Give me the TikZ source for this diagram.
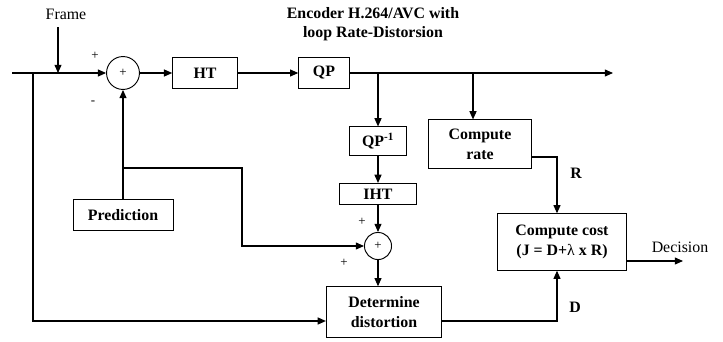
\documentclass[tikz,border=0pt]{standalone}
\usepackage{fontspec}
\setmainfont{Liberation Serif}
\usetikzlibrary{arrows.meta, positioning, calc}

\begin{document}
\begin{tikzpicture}[x=0.85pt, y=-0.85pt,
  font=\fontsize{13.5}{17}\selectfont,
  blk/.style={draw, line width=0.8pt, inner sep=0pt,
    align=center, font=\fontsize{13.5}{17}\selectfont\bfseries},
  sumnode/.style={draw, circle, line width=0.8pt, inner sep=0pt,
    font=\fontsize{11}{12}\selectfont},
  sgn/.style={font=\fontsize{11}{12}\selectfont},
  wire/.style={line width=0.9pt},
  arr/.style={-{Triangle[length=7pt, width=6pt]}, line width=0.9pt}]

  \useasboundingbox (0,0) rectangle (723,341);

  % title
  \node[align=center, font=\fontsize{13.5}{16}\selectfont\bfseries] (title) at (373,24)
    {Encoder H.264/AVC with\\loop Rate-Distorsion};

  % forward path
  \coordinate (in) at (12,73);
  \coordinate (split) at (33,73);
  \coordinate (fin) at (58,73);
  \node (frame) at (66,14) {Frame};
  \node[sumnode, minimum size=28pt] (sum1) at (123,73) {+};
  \node[blk, minimum width=55pt, minimum height=27pt] (ht) at (205,73) {HT};
  \node[blk, minimum width=43pt, minimum height=27pt] (qp) at (324,73) {QP};
  \coordinate (tap1) at (378,73);
  \coordinate (tap2) at (473,73);
  \coordinate (out) at (613,73);

  % inverse path
  \node[blk, minimum width=48pt, minimum height=24pt] (qpinv) at (378,141) {QP\textsuperscript{-1}};
  \node[blk, minimum width=65pt, minimum height=18pt] (iht) at (378,194) {IHT};
  \node[sumnode, minimum size=23pt] (sum2) at (378,246) {+};
  \node[blk, minimum width=98pt, minimum height=43pt] (dist) at (384,312) {Determine\\distortion};

  % prediction
  \node[blk, minimum width=85pt, minimum height=27pt] (pred) at (123,215) {Prediction};
  \coordinate (ptap) at (123,168);
  \coordinate (pbend) at (242,168);

  % rate / cost
  \node[blk, minimum width=88pt, minimum height=41pt] (rate) at (480,144) {Compute\\rate};
  \coordinate (rtap) at (531,157);
  \node[blk, minimum width=109pt, minimum height=48pt] (cost) at (562,242)
    {Compute cost\\(J = D+\textmd{λ} x R)};
  \coordinate (lowleft) at (33,321);
  \coordinate (dec) at (683,261);

  % connectors
  \draw[arr] (in) -- (sum1);
  \draw[arr] (frame.south -| fin) ++(0,4) -- (fin);
  \draw[arr] (sum1) -- (ht);
  \draw[arr] (ht) -- (qp);
  \draw[arr] (qp) -- (out);
  \draw[arr] (tap1) -- (qpinv);
  \draw[arr] (tap2) -- (tap2 |- rate.north);
  \draw[arr] (qpinv) -- (iht);
  \draw[arr] (iht) -- (sum2);
  \draw[arr] (sum2) -- (sum2 |- dist.north);
  \draw[arr] (pred) -- (sum1);
  \draw[arr] (ptap) -- (pbend) |- (sum2.west);
  \draw[arr] (split) -- (lowleft) -- (lowleft -| dist.west);
  \draw[arr] (rtap) -| ($(cost.north)+(-5,0)$);
  \draw[arr] (dist.east |- lowleft) -| ($(cost.south)+(-5,0)$);
  \draw[arr] (cost.east |- dec) -- (dec);

  % labels
  \node[sgn] at (95,56) {+};
  \node[sgn] at (93,103) {-};
  \node[sgn] at (362,222) {+};
  \node[sgn] at (344,263) {+};
  \node[font=\fontsize{13.5}{17}\selectfont\bfseries] at (576,173) {R};
  \node[font=\fontsize{13.5}{17}\selectfont\bfseries] at (575,307) {D};
  \node at (680,247) {Decision};

\end{tikzpicture}
\end{document}
